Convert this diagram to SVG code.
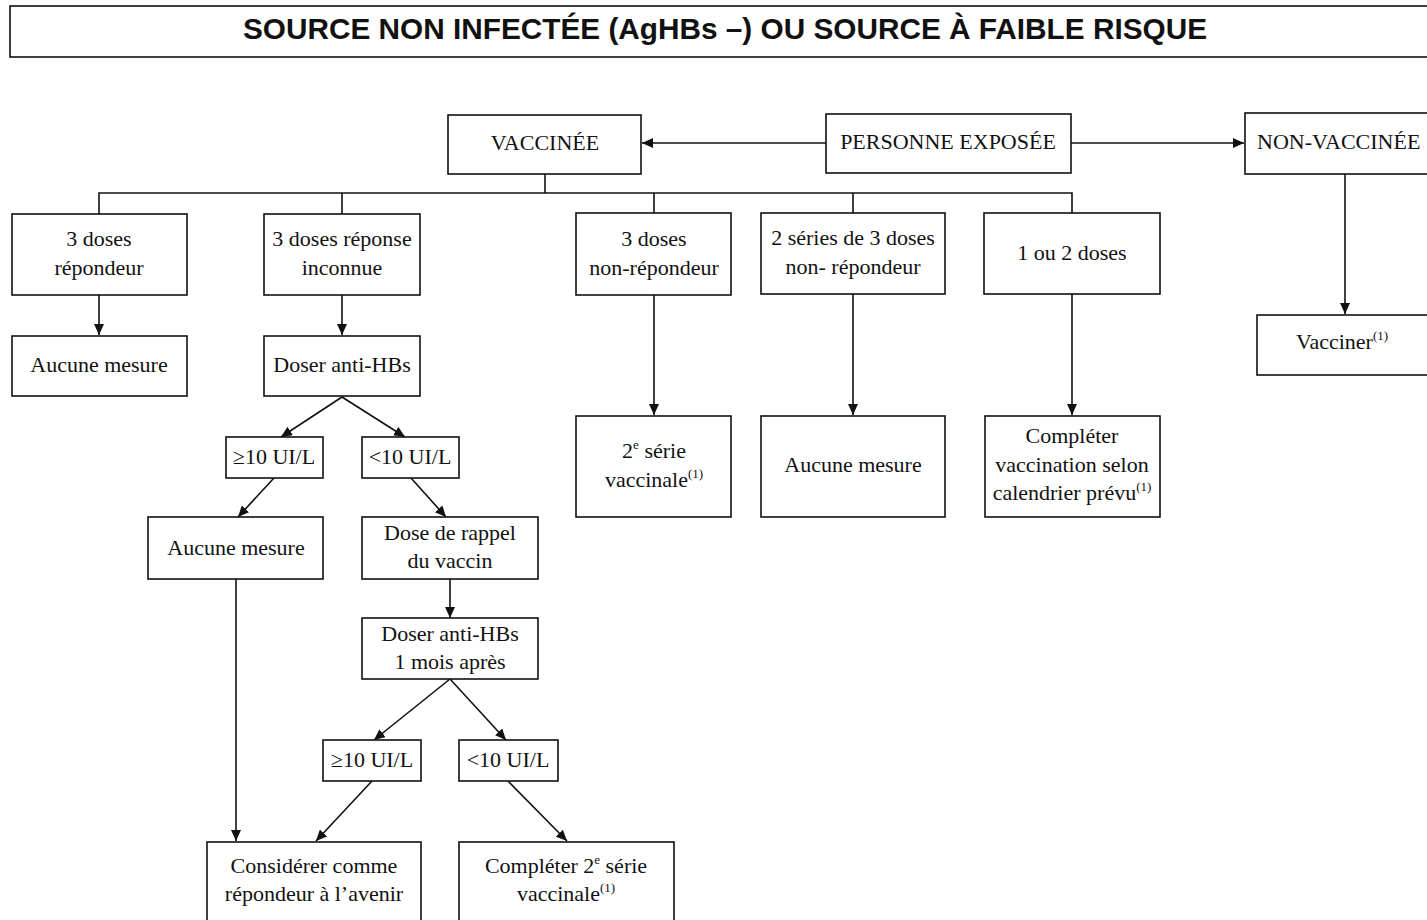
<svg xmlns="http://www.w3.org/2000/svg" width="1427" height="920" viewBox="0 0 1427 920">
<style>
.box{fill:#fff;stroke:#111;stroke-width:1.6}
.t{font-family:"Liberation Serif","Times New Roman",serif;font-size:22px;fill:#111;text-anchor:middle}
.sup{font-size:13px}
.c{fill:none;stroke:#111;stroke-width:1.6}
.title{font-family:"Liberation Sans",Arial,sans-serif;font-weight:bold;font-size:29.5px;fill:#111;text-anchor:middle}
</style>
<defs>
<marker id="ah" markerUnits="userSpaceOnUse" markerWidth="12" markerHeight="10" refX="11" refY="5" orient="auto">
<path d="M0,0 L11,5 L0,10 z" fill="#111"/>
</marker>
</defs>
<rect width="1427" height="920" fill="#fff"/>
<g id="title">
<rect class="box" x="10" y="6" width="1440" height="51"/>
<text class="title" x="725" y="39" textLength="964" lengthAdjust="spacingAndGlyphs">SOURCE NON INFECTÉE (AgHBs –) OU SOURCE À FAIBLE RISQUE</text>
</g>
<g id="connectors">
<line class="c" x1="826" y1="143" x2="642" y2="143" marker-end="url(#ah)"/>
<line class="c" x1="1071" y1="143" x2="1244" y2="143" marker-end="url(#ah)"/>
<polyline class="c" points="545,174 545,193"/>
<polyline class="c" points="99,214 99,193 1072,193 1072,213"/>
<line class="c" x1="342" y1="193" x2="342" y2="214"/>
<line class="c" x1="654" y1="193" x2="654" y2="213"/>
<line class="c" x1="853" y1="193" x2="853" y2="213"/>
<line class="c" x1="99" y1="295" x2="99" y2="335" marker-end="url(#ah)"/>
<line class="c" x1="342" y1="295" x2="342" y2="335" marker-end="url(#ah)"/>
<line class="c" x1="654" y1="295" x2="654" y2="415" marker-end="url(#ah)"/>
<line class="c" x1="853" y1="294" x2="853" y2="415" marker-end="url(#ah)"/>
<line class="c" x1="1072" y1="294" x2="1072" y2="415" marker-end="url(#ah)"/>
<line class="c" x1="1345" y1="174" x2="1345" y2="314" marker-end="url(#ah)"/>
<line class="c" x1="342" y1="397" x2="281" y2="437" marker-end="url(#ah)"/>
<line class="c" x1="342" y1="397" x2="405" y2="437" marker-end="url(#ah)"/>
<line class="c" x1="274" y1="478" x2="238" y2="517" marker-end="url(#ah)"/>
<line class="c" x1="411" y1="478" x2="446" y2="517" marker-end="url(#ah)"/>
<line class="c" x1="450" y1="579" x2="450" y2="618" marker-end="url(#ah)"/>
<line class="c" x1="450" y1="679" x2="374" y2="740" marker-end="url(#ah)"/>
<line class="c" x1="450" y1="679" x2="506" y2="740" marker-end="url(#ah)"/>
<line class="c" x1="236" y1="579" x2="236" y2="841" marker-end="url(#ah)"/>
<line class="c" x1="372" y1="781" x2="316" y2="841" marker-end="url(#ah)"/>
<line class="c" x1="508" y1="781" x2="567" y2="841" marker-end="url(#ah)"/>
</g>
<g id="vaccinee"><rect class="box" x="448" y="115" width="193" height="59"/><text class="t" x="545" y="150">VACCINÉE</text></g>
<g id="personne"><rect class="box" x="826" y="114" width="245" height="59"/><text class="t" x="948" y="149">PERSONNE EXPOSÉE</text></g>
<g id="nonvaccinee"><rect class="box" x="1245" y="113" width="200" height="61"/><text class="t" x="1257" y="149" style="text-anchor:start">NON-VACCINÉE</text></g>
<g id="n3rep"><rect class="box" x="12" y="214" width="175" height="81"/><text class="t" x="99" y="246">3 doses</text><text class="t" x="99" y="275">répondeur</text></g>
<g id="n3inc"><rect class="box" x="264" y="214" width="156" height="81"/><text class="t" x="342" y="246">3 doses réponse</text><text class="t" x="342" y="275">inconnue</text></g>
<g id="n3non"><rect class="box" x="576" y="213" width="155" height="82"/><text class="t" x="654" y="246">3 doses</text><text class="t" x="654" y="275">non-répondeur</text></g>
<g id="n2ser"><rect class="box" x="761" y="213" width="184" height="81"/><text class="t" x="853" y="245">2 séries de 3 doses</text><text class="t" x="853" y="274">non- répondeur</text></g>
<g id="n12"><rect class="box" x="984" y="213" width="176" height="81"/><text class="t" x="1072" y="260">1 ou 2 doses</text></g>
<g id="aucune1"><rect class="box" x="12" y="336" width="175" height="60"/><text class="t" x="99" y="372">Aucune mesure</text></g>
<g id="doser1"><rect class="box" x="264" y="336" width="156" height="60"/><text class="t" x="342" y="372">Doser anti-HBs</text></g>
<g id="serie2"><rect class="box" x="576" y="416" width="155" height="101"/><text class="t" x="654" y="458">2<tspan class="sup" dy="-9">e</tspan><tspan dy="9"> série</tspan></text><text class="t" x="654" y="487">vaccinale<tspan class="sup" dy="-9">(1)</tspan></text></g>
<g id="aucune2"><rect class="box" x="761" y="416" width="184" height="101"/><text class="t" x="853" y="472">Aucune mesure</text></g>
<g id="completer"><rect class="box" x="985" y="416" width="175" height="101"/><text class="t" x="1072" y="443">Compléter</text><text class="t" x="1072" y="472">vaccination selon</text><text class="t" x="1072" y="500">calendrier prévu<tspan class="sup" dy="-9">(1)</tspan></text></g>
<g id="vacciner"><rect class="box" x="1257" y="315" width="200" height="60"/><text class="t" x="1296" y="349" style="text-anchor:start">Vacciner<tspan class="sup" dy="-9">(1)</tspan></text></g>
<g id="ge10a"><rect class="box" x="226" y="437" width="97" height="41"/><text class="t" x="274" y="464">≥10 UI/L</text></g>
<g id="lt10a"><rect class="box" x="362" y="437" width="97" height="41"/><text class="t" x="410" y="464">&lt;10 UI/L</text></g>
<g id="aucune3"><rect class="box" x="148" y="517" width="175" height="62"/><text class="t" x="236" y="555">Aucune mesure</text></g>
<g id="rappel"><rect class="box" x="362" y="517" width="176" height="62"/><text class="t" x="450" y="540">Dose de rappel</text><text class="t" x="450" y="568">du vaccin</text></g>
<g id="doser2"><rect class="box" x="362" y="618" width="176" height="61"/><text class="t" x="450" y="641">Doser anti-HBs</text><text class="t" x="450" y="669">1 mois après</text></g>
<g id="ge10b"><rect class="box" x="323" y="740" width="98" height="41"/><text class="t" x="372" y="767">≥10 UI/L</text></g>
<g id="lt10b"><rect class="box" x="459" y="740" width="99" height="41"/><text class="t" x="508" y="767">&lt;10 UI/L</text></g>
<g id="considerer"><rect class="box" x="207" y="842" width="214" height="100"/><text class="t" x="314" y="873">Considérer comme</text><text class="t" x="314" y="901">répondeur à l’avenir</text></g>
<g id="completer2"><rect class="box" x="459" y="842" width="215" height="100"/><text class="t" x="566" y="873">Compléter 2<tspan class="sup" dy="-9">e</tspan><tspan dy="9"> série</tspan></text><text class="t" x="566" y="901">vaccinale<tspan class="sup" dy="-9">(1)</tspan></text></g>
</svg>
